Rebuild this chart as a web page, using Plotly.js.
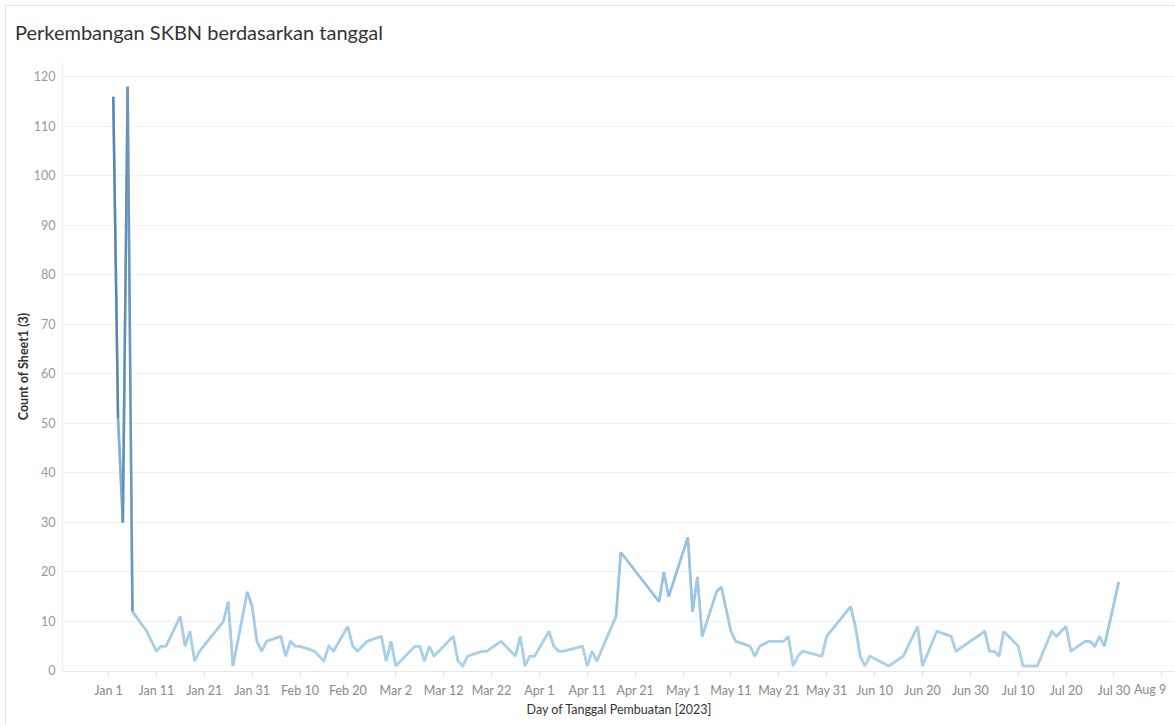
<!DOCTYPE html>
<html><head><meta charset="utf-8">
<script src="https://cdn.plot.ly/plotly-3.0.1.min.js"></script>
<style>
html,body{margin:0;padding:0;background:#fff;overflow:hidden}
#chart{position:absolute;left:0;top:0;width:1175px;height:725px}
#frame{position:absolute;left:5px;top:5px;width:1170px;height:720px;border-left:1px solid #e4e4e4;border-top:1px solid #e4e4e4;pointer-events:none}
</style></head><body>
<div id="chart"></div><div id="frame"></div>
<script>
// Day of Tanggal Pembuatan (2023) and Count of Sheet1 (3)
const dates = [
 '2023-01-02','2023-01-03','2023-01-04','2023-01-05','2023-01-06','2023-01-09','2023-01-11','2023-01-12','2023-01-13','2023-01-16',
 '2023-01-17','2023-01-18','2023-01-19','2023-01-20','2023-01-25','2023-01-26','2023-01-27','2023-01-30','2023-01-31','2023-02-01',
 '2023-02-02','2023-02-03','2023-02-06','2023-02-07','2023-02-08','2023-02-09','2023-02-10','2023-02-13','2023-02-15','2023-02-16',
 '2023-02-17','2023-02-20','2023-02-21','2023-02-22','2023-02-24','2023-02-27','2023-02-28','2023-03-01','2023-03-02','2023-03-06',
 '2023-03-07','2023-03-08','2023-03-09','2023-03-10','2023-03-14','2023-03-15','2023-03-16','2023-03-17','2023-03-20','2023-03-21',
 '2023-03-24','2023-03-27','2023-03-28','2023-03-29','2023-03-30','2023-03-31','2023-04-03','2023-04-04','2023-04-05','2023-04-06',
 '2023-04-10','2023-04-11','2023-04-12','2023-04-13','2023-04-17','2023-04-18','2023-04-26','2023-04-27','2023-04-28','2023-05-02',
 '2023-05-03','2023-05-04','2023-05-05','2023-05-08','2023-05-09','2023-05-11','2023-05-12','2023-05-15','2023-05-16','2023-05-17',
 '2023-05-19','2023-05-22','2023-05-23','2023-05-24','2023-05-25','2023-05-26','2023-05-30','2023-05-31','2023-06-05','2023-06-06',
 '2023-06-07','2023-06-08','2023-06-09','2023-06-13','2023-06-16','2023-06-19','2023-06-20','2023-06-23','2023-06-26','2023-06-27',
 '2023-07-03','2023-07-04','2023-07-05','2023-07-06','2023-07-07','2023-07-10','2023-07-11','2023-07-14','2023-07-17','2023-07-18',
 '2023-07-20','2023-07-21','2023-07-24','2023-07-25','2023-07-26','2023-07-27','2023-07-28','2023-07-31'
];
const counts = [
 116,51,30,118,12,8,4,5,5,11,
 5,8,2,4,10,14,1,16,13,6,
 4,6,7,3,6,5,5,4,2,5,
 4,9,5,4,6,7,2,6,1,5,
 5,2,5,3,7,2,1,3,4,4,
 6,3,7,1,3,3,8,5,4,4,
 5,1,4,2,11,24,14,20,15,27,
 12,19,7,16,17,8,6,5,3,5,
 6,6,7,1,3,4,3,7,13,9,
 3,1,3,1,3,9,1,8,7,4,
 8,4,4,3,8,5,1,1,8,7,
 9,4,6,6,5,7,5,18
];
const tickDates = ['2023-01-01','2023-01-11','2023-01-21','2023-01-31','2023-02-10','2023-02-20','2023-03-02','2023-03-12',
 '2023-03-22','2023-04-01','2023-04-11','2023-04-21','2023-05-01','2023-05-11','2023-05-21','2023-05-31','2023-06-10',
 '2023-06-20','2023-06-30','2023-07-10','2023-07-20','2023-07-30','2023-08-09'];
const tickLabels = ['Jan 1','Jan 11','Jan 21','Jan 31','Feb 10','Feb 20','Mar 2','Mar 12','Mar 22','Apr 1','Apr 11',
 'Apr 21','May 1','May 11','May 21','May 31','Jun 10','Jun 20','Jun 30','Jul 10','Jul 20','Jul 30','Aug 9'];
const yTicks = [0,10,20,30,40,50,60,70,80,90,100,110,120];

const LOW = [170,211,237], HIGH = [55,102,152];
const vmin = Math.min(...counts), vmax = Math.max(...counts);
function colorFor(v){
  const t = Math.max(0, Math.min(1, (v - vmin) / (vmax - vmin)));
  const c = LOW.map((l,i)=>Math.round(l + (HIGH[i]-l)*t));
  return 'rgb(' + c.join(',') + ')';
}

const traces = [{
  x: dates, y: counts, type:'scatter', mode:'lines',
  line:{color: colorFor(vmin), width:2.5}, showlegend:false, hoverinfo:'x+y'
}];
for (let i = 0; i < dates.length - 1; i++) {
  traces.push({
    x: [dates[i], dates[i+1]], y: [counts[i], counts[i+1]],
    type:'scatter', mode:'lines',
    line:{color: colorFor((counts[i] + counts[i+1]) / 2), width:2.5},
    showlegend:false, hoverinfo:'skip'
  });
}

// last tick label is drawn nudged left (as in the reference) so it stays inside the picture
const lastIdx = tickLabels.length - 1;
const shownTickText = tickLabels.map((t, i) => i === lastIdx ? '' : t);

const layout = {
  width:1175, height:725,
  margin:{l:63, r:0, t:62, b:54},
  paper_bgcolor:'rgba(0,0,0,0)', plot_bgcolor:'#fff',
  font:{family:'Lato, "Noto Sans", sans-serif', color:'#333'},
  title:{text:'Perkembangan SKBN berdasarkan tanggal', font:{family:'Lato, "Noto Sans", sans-serif', size:20, color:'#333'},
         xref:'container', yref:'container', x:15/1175, xanchor:'left', y:1-33/725, yanchor:'middle'},
  xaxis:{
    type:'date', range:['2022-12-22 12:00','2023-08-11 18:00'],
    tickmode:'array', tickvals:tickDates, ticktext:shownTickText,
    ticks:'outside', ticklen:4, tickcolor:'#e0e0e0',
    tickfont:{size:12.5, color:'#8a8a8a'}, ticklabelstandoff:4,
    showgrid:false, zeroline:false, showline:true, linecolor:'#e6e6e6', linewidth:1,
    title:{text:'Day of Tanggal Pembuatan [2023]', font:{size:12.5, color:'#333'}, standoff:8},
    fixedrange:true
  },
  yaxis:{
    range:[0,123], tickmode:'array', tickvals:yTicks,
    ticks:'', tickfont:{size:12.5, color:'#999'}, ticklabelstandoff:4,
    showgrid:true, gridcolor:'#f2f2f2', gridwidth:1, zeroline:false,
    showline:true, linecolor:'#eeeeee',
    title:{text:'<b>Count of Sheet1 (3)</b>', font:{size:12.5, color:'#333'}, standoff:2},
    fixedrange:true
  },
  annotations:[{
    x: tickDates[lastIdx], xref:'x', y:0, yref:'paper',
    xanchor:'right', yanchor:'top', xshift:6, yshift:-9,
    text: tickLabels[lastIdx], showarrow:false,
    font:{size:12.5, color:'#8a8a8a'}
  }]
};
Plotly.newPlot('chart', traces, layout, {displayModeBar:false, staticPlot:true});
</script>
</body></html>
